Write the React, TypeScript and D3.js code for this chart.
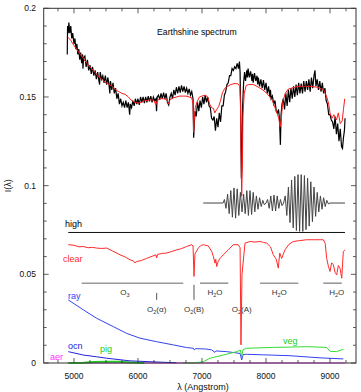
import React from "react";
import * as d3 from "d3";

// observed earthshine spectrum (black)
const obsWave = [4895, 4900, 4910, 4920, 4935, 4950, 4965, 4980, 5000, 5015, 5030, 5045, 5060, 5075, 5090, 5105, 5120, 5135, 5140, 5150, 5170, 5190, 5210, 5230, 5250, 5270, 5290, 5310, 5330, 5350, 5370, 5390, 5400, 5410, 5430, 5450, 5470, 5490, 5510, 5530, 5550, 5560, 5570, 5590, 5610, 5630, 5650, 5670, 5690, 5710, 5730, 5750, 5770, 5790, 5810, 5830, 5850, 5870, 5880, 5900, 5920, 5940, 5960, 5980, 6000, 6020, 6040, 6060, 6080, 6100, 6120, 6140, 6160, 6180, 6200, 6220, 6240, 6260, 6280, 6290, 6300, 6320, 6340, 6360, 6380, 6400, 6420, 6440, 6460, 6480, 6500, 6520, 6540, 6560, 6580, 6600, 6620, 6640, 6660, 6680, 6700, 6720, 6740, 6760, 6780, 6800, 6820, 6840, 6860, 6870, 6880, 6890, 6910, 6930, 6950, 6970, 6990, 7010, 7030, 7050, 7070, 7090, 7110, 7130, 7150, 7170, 7190, 7210, 7230, 7250, 7270, 7290, 7310, 7330, 7350, 7370, 7390, 7410, 7430, 7450, 7470, 7490, 7510, 7530, 7550, 7570, 7585, 7595, 7605, 7615, 7625, 7635, 7650, 7665, 7680, 7700, 7710, 7720, 7740, 7760, 7780, 7790, 7800, 7820, 7840, 7860, 7870, 7880, 7900, 7920, 7940, 7960, 7980, 8000, 8020, 8040, 8060, 8070, 8080, 8100, 8120, 8140, 8160, 8180, 8195, 8210, 8225, 8235, 8250, 8270, 8290, 8310, 8330, 8350, 8370, 8390, 8410, 8430, 8450, 8470, 8490, 8510, 8530, 8550, 8570, 8590, 8610, 8630, 8650, 8670, 8690, 8710, 8730, 8750, 8765, 8780, 8800, 8820, 8840, 8860, 8880, 8900, 8920, 8940, 8960, 8980, 9000, 9020, 9040, 9060, 9080, 9100, 9120, 9140, 9160, 9180, 9195, 9210, 9225, 9235];
const obsFlux = [0.174, 0.19, 0.186, 0.192, 0.186, 0.19, 0.183, 0.186, 0.18, 0.183, 0.177, 0.18, 0.174, 0.177, 0.171, 0.175, 0.169, 0.174, 0.166, 0.172, 0.173, 0.167, 0.171, 0.165, 0.168, 0.163, 0.167, 0.162, 0.165, 0.16, 0.164, 0.159, 0.157, 0.164, 0.16, 0.162, 0.158, 0.162, 0.157, 0.161, 0.156, 0.152, 0.159, 0.154, 0.158, 0.152, 0.155, 0.149, 0.152, 0.146, 0.149, 0.145, 0.147, 0.144, 0.148, 0.144, 0.147, 0.14, 0.146, 0.144, 0.148, 0.145, 0.149, 0.146, 0.149, 0.1455, 0.15, 0.147, 0.15, 0.1465, 0.15, 0.147, 0.1505, 0.1475, 0.1505, 0.147, 0.15, 0.148, 0.149, 0.142, 0.15, 0.151, 0.1485, 0.152, 0.149, 0.1525, 0.149, 0.152, 0.147, 0.1455, 0.15, 0.152, 0.149, 0.154, 0.151, 0.1555, 0.152, 0.156, 0.1525, 0.1565, 0.153, 0.156, 0.1525, 0.155, 0.152, 0.1545, 0.151, 0.153, 0.149, 0.127, 0.135, 0.142, 0.139, 0.147, 0.142, 0.148, 0.144, 0.15, 0.146, 0.151, 0.147, 0.15, 0.145, 0.144, 0.138, 0.137, 0.139, 0.131, 0.138, 0.133, 0.141, 0.136, 0.145, 0.145, 0.151, 0.153, 0.157, 0.158, 0.162, 0.162, 0.166, 0.165, 0.167, 0.166, 0.169, 0.166, 0.17, 0.164, 0.14, 0.104, 0.115, 0.145, 0.158, 0.164, 0.159, 0.165, 0.161, 0.166, 0.161, 0.1645, 0.159, 0.163, 0.158, 0.1635, 0.159, 0.162, 0.157, 0.161, 0.156, 0.16, 0.155, 0.1595, 0.154, 0.158, 0.152, 0.156, 0.15, 0.154, 0.149, 0.1505, 0.146, 0.148, 0.142, 0.141, 0.143, 0.138, 0.123, 0.14, 0.146, 0.149, 0.143, 0.152, 0.145, 0.154, 0.147, 0.155, 0.149, 0.156, 0.15, 0.157, 0.151, 0.158, 0.152, 0.1575, 0.152, 0.159, 0.153, 0.159, 0.154, 0.16, 0.153, 0.161, 0.155, 0.162, 0.165, 0.156, 0.16, 0.154, 0.159, 0.153, 0.158, 0.152, 0.155, 0.148, 0.146, 0.14, 0.14, 0.137, 0.136, 0.132, 0.139, 0.129, 0.135, 0.125, 0.132, 0.122, 0.121, 0.127, 0.131, 0.138, 0.14];

// model spectrum (red)
const modelWave = [4895, 4950, 5000, 5100, 5200, 5300, 5400, 5500, 5600, 5650, 5700, 5750, 5800, 5850, 5900, 5950, 6000, 6050, 6100, 6150, 6200, 6250, 6280, 6300, 6350, 6400, 6450, 6480, 6500, 6550, 6600, 6650, 6700, 6750, 6800, 6840, 6860, 6870, 6880, 6895, 6920, 6960, 7000, 7050, 7090, 7120, 7150, 7180, 7200, 7230, 7260, 7290, 7320, 7360, 7400, 7450, 7500, 7560, 7590, 7600, 7610, 7620, 7630, 7640, 7660, 7690, 7730, 7800, 7860, 7950, 8000, 8060, 8100, 8140, 8180, 8200, 8220, 8240, 8260, 8300, 8350, 8400, 8500, 8600, 8700, 8800, 8900, 8950, 8980, 9000, 9030, 9060, 9100, 9130, 9160, 9190, 9210, 9230];
const modelFlux = [0.184, 0.182, 0.179, 0.174, 0.169, 0.165, 0.161, 0.158, 0.156, 0.154, 0.153, 0.152, 0.1515, 0.15, 0.148, 0.147, 0.1465, 0.147, 0.148, 0.148, 0.1485, 0.148, 0.1455, 0.148, 0.149, 0.149, 0.1485, 0.146, 0.1485, 0.1495, 0.15, 0.1505, 0.1505, 0.1505, 0.15, 0.1495, 0.146, 0.13, 0.137, 0.144, 0.147, 0.15, 0.1505, 0.151, 0.15, 0.146, 0.144, 0.1435, 0.141, 0.143, 0.1445, 0.148, 0.1525, 0.155, 0.156, 0.157, 0.1575, 0.1575, 0.156, 0.148, 0.12, 0.094, 0.11, 0.14, 0.152, 0.1565, 0.157, 0.157, 0.156, 0.154, 0.1525, 0.15, 0.148, 0.144, 0.14, 0.138, 0.133, 0.138, 0.147, 0.152, 0.1545, 0.155, 0.156, 0.156, 0.156, 0.1555, 0.154, 0.15, 0.146, 0.141, 0.138, 0.14, 0.137, 0.141, 0.135, 0.1365, 0.143, 0.149];

// residual (observed - model, shifted)
const residWave = [7020, 7330, 7350, 7375, 7400, 7425, 7450, 7475, 7500, 7525, 7550, 7575, 7600, 7625, 7650, 7675, 7700, 7725, 7750, 7775, 7800, 7825, 7850, 7875, 7900, 7925, 7950, 7975, 8000, 8025, 8050, 8075, 8100, 8125, 8150, 8175, 8200, 8225, 8250, 8275, 8300, 8325, 8350, 8375, 8400, 8425, 8450, 8475, 8500, 8525, 8550, 8575, 8600, 8625, 8650, 8675, 8700, 8725, 8750, 8775, 8800, 8825, 8850, 8875, 8900, 8925, 8950, 8975, 9000, 9234];
const residFlux = [0.0902, 0.0902, 0.0922, 0.0872, 0.0952, 0.0842, 0.0972, 0.0822, 0.0987, 0.0817, 0.0982, 0.0832, 0.0962, 0.0852, 0.0952, 0.0842, 0.0972, 0.0832, 0.0972, 0.0837, 0.0962, 0.0852, 0.0942, 0.0867, 0.0932, 0.0882, 0.0917, 0.0892, 0.0902, 0.0922, 0.0872, 0.0942, 0.0857, 0.0947, 0.0857, 0.0942, 0.0872, 0.0922, 0.0887, 0.0902, 0.0942, 0.0832, 0.0992, 0.0792, 0.1032, 0.0762, 0.1052, 0.0747, 0.1062, 0.0742, 0.1062, 0.0742, 0.1057, 0.0752, 0.1042, 0.0772, 0.1022, 0.0797, 0.0992, 0.0827, 0.0962, 0.0852, 0.0942, 0.0867, 0.0932, 0.0882, 0.0917, 0.0897, 0.0902, 0.0902];

// components
const highWave = [4911, 9234];
const highFlux = [0.0736, 0.0736];

const clearWave = [4911, 5000, 5080, 5145, 5220, 5290, 5355, 5430, 5511, 5600, 5719, 5800, 5875, 5930, 5950, 5980, 6050, 6136, 6220, 6280, 6292, 6305, 6380, 6448, 6520, 6605, 6680, 6761, 6839, 6860, 6875, 6890, 6942, 6980, 7020, 7098, 7152, 7180, 7203, 7215, 7230, 7250, 7281, 7333, 7411, 7489, 7567, 7595, 7609, 7625, 7672, 7750, 7830, 7906, 7960, 8011, 8070, 8114, 8160, 8192, 8215, 8245, 8297, 8360, 8427, 8520, 8636, 8760, 8895, 8925, 8948, 8975, 9000, 9025, 9052, 9080, 9105, 9130, 9156, 9170, 9183, 9208, 9234];
const clearFlux = [0.0667, 0.0664, 0.0655, 0.0657, 0.065, 0.0652, 0.0648, 0.0646, 0.0648, 0.0632, 0.061, 0.0598, 0.0582, 0.0575, 0.0565, 0.0572, 0.0578, 0.059, 0.0602, 0.061, 0.0592, 0.0612, 0.0618, 0.062, 0.0628, 0.0638, 0.0645, 0.0657, 0.0667, 0.066, 0.0488, 0.0615, 0.0648, 0.0662, 0.0667, 0.066, 0.0629, 0.0598, 0.0563, 0.0585, 0.0544, 0.057, 0.059, 0.061, 0.0638, 0.0667, 0.0667, 0.065, 0.0102, 0.05, 0.0676, 0.0685, 0.0682, 0.0685, 0.068, 0.0676, 0.0655, 0.061, 0.0585, 0.0535, 0.062, 0.059, 0.0638, 0.067, 0.0685, 0.069, 0.0695, 0.0695, 0.0695, 0.0675, 0.059, 0.0545, 0.0516, 0.0565, 0.0554, 0.051, 0.0497, 0.055, 0.0535, 0.0505, 0.0478, 0.0629, 0.0638];

const rayWave = [4911, 5145, 5355, 5615, 5823, 6031, 6292, 6552, 6761, 6865, 6881, 6900, 7058, 7150, 7203, 7220, 7386, 7595, 7620, 7645, 7698, 7958, 8375, 8844, 9208];
const rayFlux = [0.0356, 0.03, 0.0252, 0.0205, 0.0167, 0.014, 0.012, 0.0102, 0.0087, 0.0083, 0.0073, 0.0081, 0.0079, 0.0074, 0.006, 0.0068, 0.0064, 0.0054, 0.0017, 0.0048, 0.0049, 0.0046, 0.0041, 0.0029, 0.0023];

const ocnWave = [4911, 5145, 5355, 5511, 5875, 6400, 6600];
const ocnFlux = [0.0064, 0.0045, 0.0035, 0.0027, 0.0012, 0.0004, 0.0001];

const pigWave = [4911, 5150, 5300, 5500, 5720, 5900, 6100];
const pigFlux = [0.0, 0.0002, 0.0005, 0.0007, 0.0007, 0.0003, 0.0];

const vegWave = [6700, 6900, 7020, 7125, 7333, 7542, 7600, 7620, 7640, 7698, 8115, 8400, 8636, 8948, 9000, 9100, 9208];
const vegFlux = [0.0, 0.0001, 0.0007, 0.0027, 0.0045, 0.0064, 0.0073, 0.0035, 0.0075, 0.0083, 0.0088, 0.009, 0.0092, 0.0088, 0.0066, 0.0064, 0.0077];

const aerWave = [4911, 9234];
const aerFlux = [0.0, 0.0];

// absorption band markers
const bandFrom = [5120, 6969, 7906, 8895];
const bandTo = [6708, 7411, 8505, 9183];
const bandLabelAt = [5797, 7203, 8208, 9105];
const bandMol = ["O", "H", "H", "H"];
const bandSub = ["3", "2", "2", "2"];
const bandTail = ["", "O", "O", "O"];

const lineNames = ["α", "B", "A"];
const lineAt = [6292, 6875, 7620];
const lineTop = [0.0395, 0.0441, null];

const xMajor = [5000, 6000, 7000, 8000, 9000];
const yMajor = [0, 0.05, 0.1, 0.15, 0.2];
const yLabels = ["0", "0.05", "0.1", "0.15", "0.2"];

const W = 361;
const H = 392;

export default function App() {
  const x = d3.scaleLinear().domain([4527, 9406]).range([43.7, 356]);
  const y = d3.scaleLinear().domain([0, 0.2]).range([363, 8.3]);

  const path = (ws: number[], vs: number[]) =>
    d3
      .line<number>()
      .x((d) => x(d))
      .y((_, i) => y(vs[i]))(ws) || "";

  const xMinor = d3.range(4750, 9401, 250);
  const yMinor = d3.range(0, 0.2001, 0.01);
  const [x0, x1] = x.range();
  const [y0, y1] = y.range();
  const font = "Liberation Sans, Arial, sans-serif";

  return (
    <svg
      width={W}
      height={H}
      style={{ position: "absolute", left: 0, top: 0, background: "#fff" }}
      fontFamily={font}
    >
      {/* band markers */}
      {bandFrom.map((f, i) => (
        <g key={"b" + i}>
          <line x1={x(f)} x2={x(bandTo[i])} y1={y(0.045)} y2={y(0.045)} stroke="#999" strokeWidth={1.6} />
          <text x={x(bandLabelAt[i])} y={y(0.0385)} fontSize={8} textAnchor="middle" fill="#333">
            {bandMol[i]}
            <tspan fontSize={5.5} dy={2}>{bandSub[i]}</tspan>
            <tspan dy={-2}>{bandTail[i]}</tspan>
          </text>
        </g>
      ))}
      {lineAt.map((l, i) => (
        <g key={"l" + i}>
          {lineTop[i] !== null && (
            <line x1={x(l)} x2={x(l)} y1={y(lineTop[i] as number)} y2={y(0.0356)} stroke="#555" strokeWidth={1} />
          )}
          <text x={x(l)} y={y(0.0285)} fontSize={8} textAnchor="middle" fill="#333">
            O<tspan fontSize={5.5} dy={2}>2</tspan>
            <tspan dy={-2}>({lineNames[i]})</tspan>
          </text>
        </g>
      ))}

      {/* component curves */}
      <path d={path(aerWave, aerFlux)} fill="none" stroke="#ff33ff" strokeWidth={1} />
      <path d={path(pigWave, pigFlux)} fill="none" stroke="#22cc22" strokeWidth={2} />
      <path d={path(ocnWave, ocnFlux)} fill="none" stroke="#2222dd" strokeWidth={1} />
      <path d={path(rayWave, rayFlux)} fill="none" stroke="#3344ee" strokeWidth={1} />
      <path d={path(vegWave, vegFlux)} fill="none" stroke="#33dd33" strokeWidth={1} />
      <path d={path(clearWave, clearFlux)} fill="none" stroke="#ff2a2a" strokeWidth={1} />
      <path d={path(highWave, highFlux)} fill="none" stroke="#111" strokeWidth={1} />
      <path d={path(residWave, residFlux)} fill="none" stroke="#444" strokeWidth={1} />

      {/* spectra */}
      <path d={path(obsWave, obsFlux)} fill="none" stroke="#000" strokeWidth={1.2} />
      <path d={path(modelWave, modelFlux)} fill="none" stroke="#ff1a1a" strokeWidth={1} />

      {/* frame */}
      <rect x={x0} y={y1} width={x1 - x0} height={y0 - y1} fill="none" stroke="#333" strokeWidth={1} />

      {/* ticks */}
      {xMinor.map((t) => {
        const len = t % 1000 === 0 ? 5 : 3;
        return (
          <g key={"xt" + t} stroke="#333" strokeWidth={0.8}>
            <line x1={x(t)} x2={x(t)} y1={y0} y2={y0 - len} />
            <line x1={x(t)} x2={x(t)} y1={y1} y2={y1 + len} />
          </g>
        );
      })}
      {yMinor.map((t, i) => {
        const len = i % 5 === 0 ? 5 : 3;
        return (
          <g key={"yt" + i} stroke="#333" strokeWidth={0.8}>
            <line x1={x0} x2={x0 + len} y1={y(t)} y2={y(t)} />
            <line x1={x1} x2={x1 - len} y1={y(t)} y2={y(t)} />
          </g>
        );
      })}
      {xMajor.map((t) => (
        <text key={"xl" + t} x={x(t)} y={379} fontSize={8.5} textAnchor="middle" fill="#111">
          {t}
        </text>
      ))}
      {yMajor.map((t, i) => (
        <text key={"yl" + i} x={36} y={y(t) + 3} fontSize={8.5} textAnchor="end" fill="#111">
          {yLabels[i]}
        </text>
      ))}
      <text x={203} y={390} fontSize={9} textAnchor="middle" fill="#111">
        λ (Angstrom)
      </text>
      <text transform={`translate(11,${y(0.1)}) rotate(-90)`} fontSize={9} textAnchor="middle" fill="#111">
        I(λ)
      </text>

      {/* title */}
      <text x={157} y={35} fontSize={8.7} fill="#000">
        Earthshine spectrum
      </text>

      {/* curve labels */}
      <text x={65} y={227} fontSize={9} fill="#000">high</text>
      <text x={63} y={262} fontSize={9} fill="#ff2a2a">clear</text>
      <text x={68} y={299} fontSize={9} fill="#3344ee">ray</text>
      <text x={68} y={349} fontSize={9} fill="#2222dd">ocn</text>
      <text x={100} y={352} fontSize={9} fill="#22cc22">pig</text>
      <text x={50} y={360} fontSize={9} fill="#ff33ff">aer</text>
      <text x={283} y={344} fontSize={9} fill="#22cc22">veg</text>
    </svg>
  );
}
